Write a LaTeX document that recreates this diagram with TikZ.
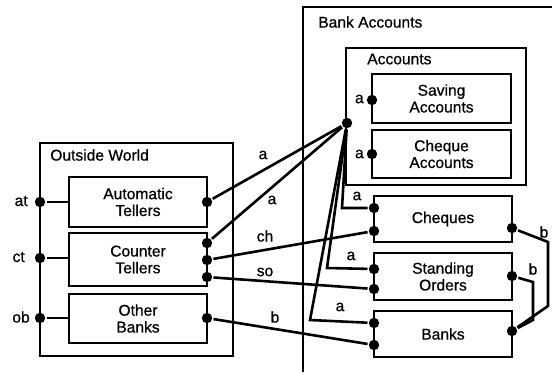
\documentclass[tikz,border=0pt]{standalone}
\usepackage{fontspec}
\setmainfont{Liberation Sans}
\newfontfamily\heavyfont[FakeBold=0.7]{Liberation Sans}
\newcommand{\fs}{\heavyfont\fontsize{7.8}{8.4}\selectfont}
\begin{document}
\begin{tikzpicture}[x=0.5pt,y=-0.5pt,line width=1.3pt,
  box/.style={draw,rectangle,inner sep=0pt,align=center,font=\fs},
  port/.style={circle,fill,inner sep=0pt,minimum size=5.2pt},
  lbl/.style={font=\fs,inner sep=1pt},
  title/.style={font=\fs,anchor=west,inner sep=0pt}]
\useasboundingbox (0,0) rectangle (552,372);

% ---------- Outside World ----------
\node[box,minimum width=96.5pt,minimum height=106.5pt] (OW) at (136.5,249.5) {};
\node[title] (OWt) at (49,155) {Outside World};
\node[box,minimum width=69pt,minimum height=25pt] (AT) at (138,202) {Automatic\\Tellers};
\node[box,minimum width=69pt,minimum height=26.5pt] (CT) at (138,259.5) {Counter\\Tellers};
\node[box,minimum width=69pt,minimum height=24.5pt] (OB) at (138,318.5) {Other\\Banks};

% ---------- Bank Accounts ----------
\draw (303,372) -- (303,7) -- (552,7);
\node[title] (BAt) at (317,22) {Bank Accounts};
\node[box,minimum width=90pt,minimum height=68.5pt] (ACC) at (436,116.5) {};
\node[title] (ACCt) at (366,59) {Accounts};
\node[box,minimum width=69.5pt,minimum height=24.5pt] (SA) at (441.5,98.5) {Saving\\Accounts};
\node[box,minimum width=69.5pt,minimum height=24pt] (CA) at (441.5,154) {Cheque\\Accounts};
\node[box,minimum width=69pt,minimum height=23pt] (CH) at (443,219) {Cheques};
\node[box,minimum width=69pt,minimum height=23.5pt] (SO) at (443,276.5) {Standing\\Orders};
\node[box,minimum width=69pt,minimum height=23pt] (BK) at (443,334) {Banks};

% ---------- ports ----------
\node[port] (atL) at (40,202) {};
\node[port] (ctL) at (40,258) {};
\node[port] (obL) at (40,318) {};
\node[port] (atR) at (207,202) {};
\node[port] (ct1) at (207,243) {};
\node[port] (ct2) at (207,260) {};
\node[port] (ct3) at (207,277) {};
\node[port] (obR) at (207,318) {};
\node[port] (acc) at (347,123) {};
\node[port] (sa) at (372,100) {};
\node[port] (ca) at (372,154) {};
\node[port] (ch1) at (374,208) {};
\node[port] (ch2) at (374,231) {};
\node[port] (chR) at (512,228) {};
\node[port] (so1) at (374,269) {};
\node[port] (so2) at (374,289) {};
\node[port] (soR) at (512,276) {};
\node[port] (bk1) at (374,323) {};
\node[port] (bk2) at (374,345) {};
\node[port] (bkR) at (512,331) {};

% port names
\node[lbl,anchor=east] at (31,201) {at};
\node[lbl,anchor=east] at (28,257) {ct};
\node[lbl,anchor=east] at (33,317) {ob};
\node[lbl,anchor=east] at (367,99) {a};
\node[lbl,anchor=east] at (367,154) {a};

% stubs from the outer ports into the boxes
\draw (atL) -- (atL -| AT.west);
\draw (ctL) -- (ctL -| CT.west);
\draw (obL) -- (obL -| OB.west);

% bend points
\coordinate (kch) at (342,208);
\coordinate (kso) at (327,268);
\coordinate (kbk) at (310,320);
\coordinate (b1a) at (548,242);
\coordinate (b1b) at (548,306);
\coordinate (b2a) at (533,282);
\coordinate (b2b) at (533,320);

% connectors
\draw (acc) -- (atR);
\draw (acc) -- (ct1);
\draw (acc) -- (kch) -- (ch1);
\draw (acc) -- (kso) -- (so1);
\draw (acc) -- (kbk) -- (bk1);
\draw (ct2) -- (ch2);
\draw (ct3) -- (so2);
\draw (obR) -- (bk2);
\draw (chR) -- (b1a) -- (b1b) -- (bkR);
\draw (soR) -- (b2a) -- (b2b) -- (bkR);

% connector labels
\node[lbl] at (263,155) {a};
\node[lbl] at (272,200) {a};
\node[lbl] at (265,236) {ch};
\node[lbl] at (265,272) {so};
\node[lbl] at (275,317) {b};
\node[lbl] at (357,196) {a};
\node[lbl] at (351,256) {a};
\node[lbl] at (340,307) {a};
\node[lbl] at (544,232) {b};
\node[lbl] at (533,269) {b};
\end{tikzpicture}
\end{document}
